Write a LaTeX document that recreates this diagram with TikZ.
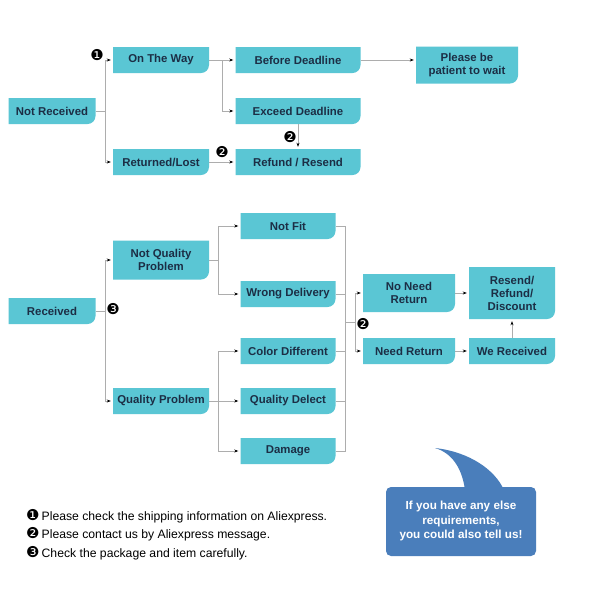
\documentclass[tikz,border=0pt]{standalone}
\usepackage{fontspec}
\setmainfont{Liberation Sans}
\newfontfamily\symfont{DejaVu Sans}
\usetikzlibrary{arrows.meta}
\definecolor{boxcyan}{HTML}{5AC6D4}
\definecolor{boxtext}{HTML}{1C2E45}
\definecolor{linegray}{HTML}{ADADAD}
\definecolor{bubblue}{HTML}{4A7EBB}
\def\mark#1{{\symfont\fontsize{15}{15}\selectfont #1}}

\begin{document}
\begin{tikzpicture}[x=1pt, y=-1pt,
	cbox/.style={minimum width=#1, minimum height=26pt, inner sep=0pt, align=center,
		text=boxtext, font=\bfseries\fontsize{11.4}{13}\selectfont,
		path picture={\fill[boxcyan] (path picture bounding box.south west) -- (path picture bounding box.north west)
			-- (path picture bounding box.north east) -- ([yshift=8pt]path picture bounding box.south east)
			arc[start angle=0, end angle=-90, radius=8pt] -- cycle;}},
	cbox/.default=96pt,
	link/.style={draw=linegray, line width=0.6pt},
	arr/.style={link, -{Stealth[black, length=4pt, width=3pt]}, shorten >=2pt},
	marker/.style={inner sep=0pt},
	note/.style={anchor=west, inner sep=0pt, font=\fontsize{12.2}{13}\selectfont}]
			%%%%% START %%%%%
			
			\fill[white] (0,0) rectangle (606,606);
			\useasboundingbox (0,0) rectangle (606,606);
			
			% not received
			\node[cbox=87pt] (nrec) at (52,111) {Not Received};
			\node[cbox] (otw) at (161,60) {On The Way};
			\node[cbox] (rlost) at (161,162) {Returned/Lost};
			\node[cbox=125pt] (bdl) at (298,60) {Before Deadline};
			\node[cbox=125pt] (edl) at (298,111) {Exceed Deadline};
			\node[cbox=125pt] (rfrs) at (298,162) {Refund / Resend};
			\node[cbox=102pt, minimum height=37pt] (wait) at (467,65) {Please be\\patient to wait};
			
			\coordinate (j1) at (105,111);
			\coordinate (j2) at (222,60);
			\draw[arr] (nrec.east) -- (j1) |- (otw.west);
			\draw[arr] (j1) |- (rlost.west);
			\draw[arr] (otw.east) -- (bdl.west);
			\draw[arr] (j2) |- (edl.west);
			\draw[arr] (bdl.east) -- (bdl.east -| wait.west);
			\draw[arr] (rlost.east) -- (rfrs.west);
			\draw[arr] (edl.south) -- (rfrs.north);
			
			\node[marker] (m1) at (97,55) {\mark{❶}};
			\node[marker] (m2a) at (222,152) {\mark{❷}};
			\node[marker] (m2b) at (290,137) {\mark{❷}};
			
			% received
			\node[cbox=87pt] (rec) at (52,311) {Received};
			\node[cbox, minimum height=39pt] (nqp) at (161,260) {Not Quality\\Problem};
			\node[cbox] (qp) at (161,401) {Quality Problem};
			\node[cbox=95pt] (nfit) at (288,226) {Not Fit};
			\node[cbox=95pt] (wdel) at (288,294) {Wrong Delivery};
			\node[cbox=95pt] (cdiff) at (288,351) {Color Different};
			\node[cbox=95pt] (qdef) at (288,401) {Quality Delect};
			\node[cbox=95pt] (dmg) at (288,451) {Damage};
			\node[cbox=92pt, minimum height=38pt] (nnr) at (409,293) {No Need\\Return};
			\node[cbox=92pt] (nr) at (409,351) {Need Return};
			\node[cbox=86pt, minimum height=52pt] (rrd) at (512,293) {Resend/\\Refund/\\Discount};
			\node[cbox=86pt] (wrec) at (512,351) {We Received};
			
			\coordinate (j3) at (105,311);
			\coordinate (j4) at (218,260);
			\coordinate (j5) at (218,401);
			\coordinate (jm) at (345,322);
			\coordinate (jn) at (355,322);
			\draw[arr] (rec.east) -- (j3) |- (nqp.west);
			\draw[arr] (j3) |- (qp.west);
			\draw[arr] (nqp.east) -- (j4) |- (nfit.west);
			\draw[arr] (j4) |- (wdel.west);
			\draw[arr] (qp.east) -- (qdef.west);
			\draw[arr] (j5) |- (cdiff.west);
			\draw[arr] (j5) |- (dmg.west);
			\draw[link] (nfit.east) -| (jm);
			\draw[link] (wdel.east) -| (jm);
			\draw[link] (cdiff.east) -| (jm);
			\draw[link] (qdef.east) -| (jm);
			\draw[link] (dmg.east) -| (jm);
			\draw[link] (jm) -- (jn);
			\draw[arr] (jn) |- (nnr.west);
			\draw[arr] (jn) |- (nr.west);
			\draw[arr] (nnr.east) -- (rrd.west);
			\draw[arr] (nr.east) -- (wrec.west);
			\draw[arr] (wrec.north) -- (rrd.south);
			
			\node[marker] (m3) at (113,309) {\mark{❸}};
			\node[marker] (m2c) at (363,324) {\mark{❷}};
			
			% speech bubble
			\fill[bubblue, rounded corners=5pt] (386,487) rectangle (536,556);
			\fill[bubblue] (465,490) .. controls (462,468) and (452,453) .. (435,448)
				.. controls (470,452) and (495,470) .. (504,490) -- cycle;
			\node[text=white, align=center, font=\bfseries\fontsize{11.7}{14.5}\selectfont] (bub) at (461,521)
				{If you have any else\\requirements,\\you could also tell us!};
			
			% notes
			\node[note] (fn1) at (26,516) {\mark{❶}\,Please check the shipping information on Aliexpress.};
			\node[note] (fn2) at (26,534) {\mark{❷}\,Please contact us by Aliexpress message.};
			\node[note] (fn3) at (26,553) {\mark{❸}\,Check the package and item carefully.};
			
			%%%%% END %%%%%
		\end{tikzpicture}
\end{document}
